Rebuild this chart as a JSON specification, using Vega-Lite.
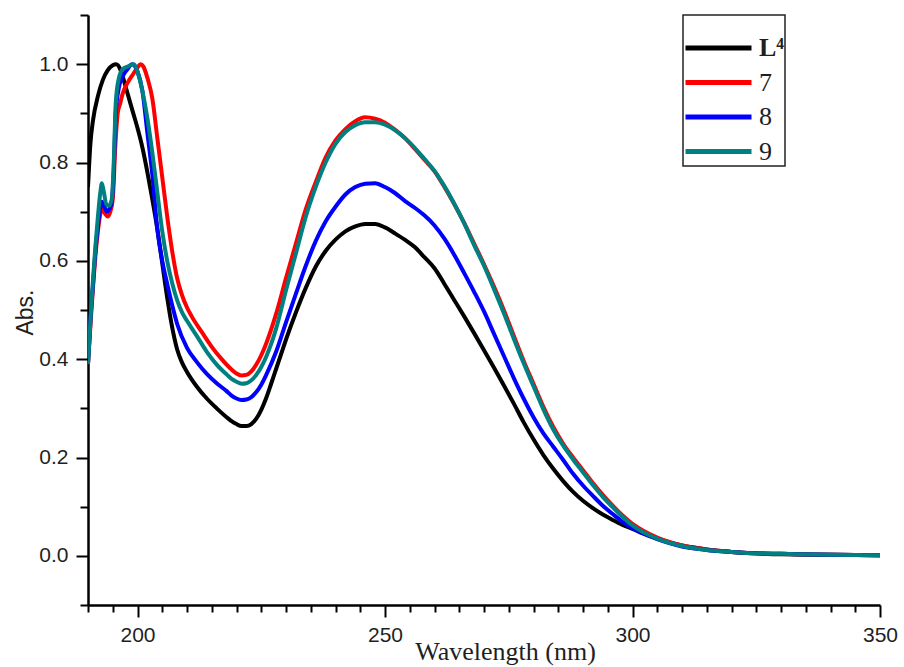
{
  "$schema": "https://vega.github.io/schema/vega-lite/v6.json",
  "autosize": {"type": "none"},
  "padding": {"left": 88, "top": 15, "right": 24, "bottom": 62},
  "width": 792,
  "height": 590,
  "background": "white",
  "config": {"view": {"stroke": null}},
  "data": {"values": [
{"s":"L⁴","wl":190,"a":0.75},{"s":"L⁴","wl":190.5,"a":0.84},{"s":"L⁴","wl":191,"a":0.885},{"s":"L⁴","wl":192,"a":0.935},{"s":"L⁴","wl":193,"a":0.968},{"s":"L⁴","wl":194,"a":0.988},{"s":"L⁴","wl":195,"a":0.998},{"s":"L⁴","wl":195.7,"a":1.0},{"s":"L⁴","wl":196.5,"a":0.99},{"s":"L⁴","wl":197,"a":0.975},{"s":"L⁴","wl":198,"a":0.94},{"s":"L⁴","wl":199,"a":0.905},{"s":"L⁴","wl":200,"a":0.87},{"s":"L⁴","wl":201,"a":0.83},{"s":"L⁴","wl":202,"a":0.78},{"s":"L⁴","wl":203,"a":0.725},{"s":"L⁴","wl":204,"a":0.665},{"s":"L⁴","wl":205,"a":0.595},{"s":"L⁴","wl":206,"a":0.525},{"s":"L⁴","wl":207,"a":0.465},{"s":"L⁴","wl":208,"a":0.42},{"s":"L⁴","wl":209,"a":0.393},{"s":"L⁴","wl":210,"a":0.374},{"s":"L⁴","wl":212,"a":0.344},{"s":"L⁴","wl":214,"a":0.32},{"s":"L⁴","wl":216,"a":0.3},{"s":"L⁴","wl":218,"a":0.282},{"s":"L⁴","wl":219,"a":0.274},{"s":"L⁴","wl":220,"a":0.268},{"s":"L⁴","wl":221,"a":0.264},{"s":"L⁴","wl":222,"a":0.264},{"s":"L⁴","wl":223,"a":0.268},{"s":"L⁴","wl":224,"a":0.279},{"s":"L⁴","wl":225,"a":0.297},{"s":"L⁴","wl":226,"a":0.321},{"s":"L⁴","wl":227,"a":0.35},{"s":"L⁴","wl":228,"a":0.38},{"s":"L⁴","wl":229,"a":0.41},{"s":"L⁴","wl":230,"a":0.44},{"s":"L⁴","wl":232,"a":0.495},{"s":"L⁴","wl":234,"a":0.545},{"s":"L⁴","wl":236,"a":0.588},{"s":"L⁴","wl":238,"a":0.62},{"s":"L⁴","wl":240,"a":0.643},{"s":"L⁴","wl":242,"a":0.66},{"s":"L⁴","wl":244,"a":0.67},{"s":"L⁴","wl":246,"a":0.675},{"s":"L⁴","wl":248,"a":0.675},{"s":"L⁴","wl":250,"a":0.668},{"s":"L⁴","wl":252,"a":0.656},{"s":"L⁴","wl":254,"a":0.643},{"s":"L⁴","wl":256,"a":0.628},{"s":"L⁴","wl":258,"a":0.607},{"s":"L⁴","wl":260,"a":0.585},{"s":"L⁴","wl":262,"a":0.553},{"s":"L⁴","wl":264,"a":0.52},{"s":"L⁴","wl":266,"a":0.487},{"s":"L⁴","wl":268,"a":0.453},{"s":"L⁴","wl":270,"a":0.418},{"s":"L⁴","wl":272,"a":0.383},{"s":"L⁴","wl":274,"a":0.347},{"s":"L⁴","wl":276,"a":0.31},{"s":"L⁴","wl":278,"a":0.272},{"s":"L⁴","wl":280,"a":0.237},{"s":"L⁴","wl":282,"a":0.205},{"s":"L⁴","wl":284,"a":0.177},{"s":"L⁴","wl":286,"a":0.152},{"s":"L⁴","wl":288,"a":0.13},{"s":"L⁴","wl":290,"a":0.112},{"s":"L⁴","wl":292,"a":0.097},{"s":"L⁴","wl":294,"a":0.084},{"s":"L⁴","wl":296,"a":0.073},{"s":"L⁴","wl":298,"a":0.063},{"s":"L⁴","wl":300,"a":0.055},{"s":"L⁴","wl":302,"a":0.046},{"s":"L⁴","wl":305,"a":0.035},{"s":"L⁴","wl":310,"a":0.021},{"s":"L⁴","wl":315,"a":0.013},{"s":"L⁴","wl":320,"a":0.008},{"s":"L⁴","wl":325,"a":0.005},{"s":"L⁴","wl":330,"a":0.003},{"s":"L⁴","wl":340,"a":0.002},{"s":"L⁴","wl":350,"a":0.001},
{"s":"7","wl":190,"a":0.39},{"s":"7","wl":190.5,"a":0.47},{"s":"7","wl":191,"a":0.545},{"s":"7","wl":191.5,"a":0.61},{"s":"7","wl":192,"a":0.66},{"s":"7","wl":192.5,"a":0.695},{"s":"7","wl":193,"a":0.705},{"s":"7","wl":193.5,"a":0.695},{"s":"7","wl":194,"a":0.69},{"s":"7","wl":194.5,"a":0.7},{"s":"7","wl":195,"a":0.725},{"s":"7","wl":195.5,"a":0.83},{"s":"7","wl":196,"a":0.9},{"s":"7","wl":196.5,"a":0.92},{"s":"7","wl":197,"a":0.94},{"s":"7","wl":198,"a":0.962},{"s":"7","wl":199,"a":0.978},{"s":"7","wl":200,"a":0.993},{"s":"7","wl":200.6,"a":1.0},{"s":"7","wl":201.2,"a":0.995},{"s":"7","wl":202,"a":0.972},{"s":"7","wl":203,"a":0.93},{"s":"7","wl":204,"a":0.85},{"s":"7","wl":205,"a":0.77},{"s":"7","wl":206,"a":0.69},{"s":"7","wl":207,"a":0.62},{"s":"7","wl":208,"a":0.565},{"s":"7","wl":209,"a":0.53},{"s":"7","wl":210,"a":0.505},{"s":"7","wl":211,"a":0.486},{"s":"7","wl":213,"a":0.455},{"s":"7","wl":215,"a":0.425},{"s":"7","wl":217,"a":0.4},{"s":"7","wl":219,"a":0.379},{"s":"7","wl":220,"a":0.371},{"s":"7","wl":221,"a":0.367},{"s":"7","wl":222,"a":0.368},{"s":"7","wl":223,"a":0.375},{"s":"7","wl":224,"a":0.389},{"s":"7","wl":225,"a":0.408},{"s":"7","wl":226,"a":0.432},{"s":"7","wl":228,"a":0.492},{"s":"7","wl":230,"a":0.565},{"s":"7","wl":232,"a":0.635},{"s":"7","wl":234,"a":0.705},{"s":"7","wl":236,"a":0.76},{"s":"7","wl":238,"a":0.81},{"s":"7","wl":240,"a":0.845},{"s":"7","wl":242,"a":0.868},{"s":"7","wl":244,"a":0.884},{"s":"7","wl":246,"a":0.892},{"s":"7","wl":248,"a":0.889},{"s":"7","wl":250,"a":0.881},{"s":"7","wl":252,"a":0.867},{"s":"7","wl":254,"a":0.85},{"s":"7","wl":256,"a":0.828},{"s":"7","wl":258,"a":0.805},{"s":"7","wl":260,"a":0.782},{"s":"7","wl":262,"a":0.75},{"s":"7","wl":264,"a":0.715},{"s":"7","wl":266,"a":0.677},{"s":"7","wl":268,"a":0.635},{"s":"7","wl":270,"a":0.593},{"s":"7","wl":272,"a":0.548},{"s":"7","wl":274,"a":0.5},{"s":"7","wl":276,"a":0.448},{"s":"7","wl":278,"a":0.397},{"s":"7","wl":280,"a":0.35},{"s":"7","wl":282,"a":0.303},{"s":"7","wl":284,"a":0.262},{"s":"7","wl":286,"a":0.228},{"s":"7","wl":288,"a":0.2},{"s":"7","wl":290,"a":0.174},{"s":"7","wl":292,"a":0.148},{"s":"7","wl":294,"a":0.124},{"s":"7","wl":296,"a":0.102},{"s":"7","wl":298,"a":0.082},{"s":"7","wl":300,"a":0.065},{"s":"7","wl":302,"a":0.052},{"s":"7","wl":305,"a":0.037},{"s":"7","wl":310,"a":0.021},{"s":"7","wl":315,"a":0.013},{"s":"7","wl":320,"a":0.008},{"s":"7","wl":325,"a":0.005},{"s":"7","wl":330,"a":0.004},{"s":"7","wl":340,"a":0.002},{"s":"7","wl":350,"a":0.001},
{"s":"8","wl":190,"a":0.39},{"s":"8","wl":190.5,"a":0.48},{"s":"8","wl":191,"a":0.55},{"s":"8","wl":191.5,"a":0.62},{"s":"8","wl":192,"a":0.67},{"s":"8","wl":192.5,"a":0.71},{"s":"8","wl":192.8,"a":0.72},{"s":"8","wl":193.3,"a":0.71},{"s":"8","wl":193.8,"a":0.7},{"s":"8","wl":194.3,"a":0.705},{"s":"8","wl":194.8,"a":0.72},{"s":"8","wl":195.2,"a":0.78},{"s":"8","wl":195.6,"a":0.9},{"s":"8","wl":196.2,"a":0.95},{"s":"8","wl":197,"a":0.975},{"s":"8","wl":198,"a":0.99},{"s":"8","wl":198.9,"a":1.0},{"s":"8","wl":200,"a":0.985},{"s":"8","wl":201,"a":0.945},{"s":"8","wl":202,"a":0.86},{"s":"8","wl":203,"a":0.775},{"s":"8","wl":204,"a":0.665},{"s":"8","wl":205,"a":0.6},{"s":"8","wl":206,"a":0.553},{"s":"8","wl":207,"a":0.51},{"s":"8","wl":208,"a":0.472},{"s":"8","wl":210,"a":0.423},{"s":"8","wl":212,"a":0.394},{"s":"8","wl":214,"a":0.37},{"s":"8","wl":216,"a":0.351},{"s":"8","wl":218,"a":0.335},{"s":"8","wl":219,"a":0.326},{"s":"8","wl":220,"a":0.32},{"s":"8","wl":221,"a":0.317},{"s":"8","wl":222,"a":0.318},{"s":"8","wl":223,"a":0.323},{"s":"8","wl":224,"a":0.333},{"s":"8","wl":225,"a":0.348},{"s":"8","wl":226,"a":0.368},{"s":"8","wl":228,"a":0.415},{"s":"8","wl":230,"a":0.475},{"s":"8","wl":232,"a":0.533},{"s":"8","wl":234,"a":0.59},{"s":"8","wl":236,"a":0.64},{"s":"8","wl":238,"a":0.68},{"s":"8","wl":240,"a":0.71},{"s":"8","wl":242,"a":0.735},{"s":"8","wl":244,"a":0.75},{"s":"8","wl":246,"a":0.757},{"s":"8","wl":248,"a":0.758},{"s":"8","wl":250,"a":0.75},{"s":"8","wl":252,"a":0.738},{"s":"8","wl":254,"a":0.722},{"s":"8","wl":256,"a":0.708},{"s":"8","wl":258,"a":0.692},{"s":"8","wl":260,"a":0.672},{"s":"8","wl":262,"a":0.645},{"s":"8","wl":264,"a":0.612},{"s":"8","wl":266,"a":0.575},{"s":"8","wl":268,"a":0.537},{"s":"8","wl":270,"a":0.497},{"s":"8","wl":272,"a":0.452},{"s":"8","wl":274,"a":0.407},{"s":"8","wl":276,"a":0.362},{"s":"8","wl":278,"a":0.32},{"s":"8","wl":280,"a":0.282},{"s":"8","wl":282,"a":0.249},{"s":"8","wl":284,"a":0.222},{"s":"8","wl":286,"a":0.195},{"s":"8","wl":288,"a":0.167},{"s":"8","wl":290,"a":0.143},{"s":"8","wl":292,"a":0.122},{"s":"8","wl":294,"a":0.102},{"s":"8","wl":296,"a":0.085},{"s":"8","wl":298,"a":0.069},{"s":"8","wl":300,"a":0.056},{"s":"8","wl":302,"a":0.046},{"s":"8","wl":305,"a":0.034},{"s":"8","wl":310,"a":0.019},{"s":"8","wl":315,"a":0.012},{"s":"8","wl":320,"a":0.008},{"s":"8","wl":325,"a":0.005},{"s":"8","wl":330,"a":0.004},{"s":"8","wl":340,"a":0.002},{"s":"8","wl":350,"a":0.001},
{"s":"9","wl":190,"a":0.39},{"s":"9","wl":190.5,"a":0.48},{"s":"9","wl":191,"a":0.56},{"s":"9","wl":191.5,"a":0.63},{"s":"9","wl":192,"a":0.69},{"s":"9","wl":192.5,"a":0.74},{"s":"9","wl":192.8,"a":0.758},{"s":"9","wl":193.2,"a":0.74},{"s":"9","wl":193.7,"a":0.715},{"s":"9","wl":194.2,"a":0.712},{"s":"9","wl":194.8,"a":0.725},{"s":"9","wl":195.2,"a":0.8},{"s":"9","wl":195.6,"a":0.92},{"s":"9","wl":196.2,"a":0.97},{"s":"9","wl":197,"a":0.99},{"s":"9","wl":198,"a":0.995},{"s":"9","wl":199.3,"a":1.0},{"s":"9","wl":200,"a":0.985},{"s":"9","wl":201,"a":0.945},{"s":"9","wl":202,"a":0.89},{"s":"9","wl":203,"a":0.82},{"s":"9","wl":204,"a":0.74},{"s":"9","wl":205,"a":0.66},{"s":"9","wl":206,"a":0.6},{"s":"9","wl":207,"a":0.555},{"s":"9","wl":208,"a":0.52},{"s":"9","wl":209,"a":0.495},{"s":"9","wl":210,"a":0.478},{"s":"9","wl":212,"a":0.447},{"s":"9","wl":214,"a":0.415},{"s":"9","wl":216,"a":0.389},{"s":"9","wl":218,"a":0.369},{"s":"9","wl":219,"a":0.36},{"s":"9","wl":220,"a":0.354},{"s":"9","wl":221,"a":0.35},{"s":"9","wl":222,"a":0.351},{"s":"9","wl":223,"a":0.357},{"s":"9","wl":224,"a":0.368},{"s":"9","wl":225,"a":0.384},{"s":"9","wl":226,"a":0.405},{"s":"9","wl":228,"a":0.462},{"s":"9","wl":230,"a":0.54},{"s":"9","wl":232,"a":0.615},{"s":"9","wl":234,"a":0.69},{"s":"9","wl":236,"a":0.75},{"s":"9","wl":238,"a":0.8},{"s":"9","wl":240,"a":0.838},{"s":"9","wl":242,"a":0.862},{"s":"9","wl":244,"a":0.876},{"s":"9","wl":246,"a":0.882},{"s":"9","wl":248,"a":0.882},{"s":"9","wl":250,"a":0.877},{"s":"9","wl":252,"a":0.866},{"s":"9","wl":254,"a":0.85},{"s":"9","wl":256,"a":0.83},{"s":"9","wl":258,"a":0.807},{"s":"9","wl":260,"a":0.783},{"s":"9","wl":262,"a":0.752},{"s":"9","wl":264,"a":0.716},{"s":"9","wl":266,"a":0.676},{"s":"9","wl":268,"a":0.632},{"s":"9","wl":270,"a":0.59},{"s":"9","wl":272,"a":0.543},{"s":"9","wl":274,"a":0.494},{"s":"9","wl":276,"a":0.442},{"s":"9","wl":278,"a":0.392},{"s":"9","wl":280,"a":0.345},{"s":"9","wl":282,"a":0.298},{"s":"9","wl":284,"a":0.257},{"s":"9","wl":286,"a":0.224},{"s":"9","wl":288,"a":0.196},{"s":"9","wl":290,"a":0.17},{"s":"9","wl":292,"a":0.144},{"s":"9","wl":294,"a":0.12},{"s":"9","wl":296,"a":0.099},{"s":"9","wl":298,"a":0.079},{"s":"9","wl":300,"a":0.062},{"s":"9","wl":302,"a":0.049},{"s":"9","wl":305,"a":0.035},{"s":"9","wl":310,"a":0.02},{"s":"9","wl":315,"a":0.012},{"s":"9","wl":320,"a":0.008},{"s":"9","wl":325,"a":0.005},{"s":"9","wl":330,"a":0.004},{"s":"9","wl":340,"a":0.002},{"s":"9","wl":350,"a":0.001}
  ]},
  "mark": {"type": "line", "interpolate": "monotone", "strokeWidth": 4, "clip": true},
  "encoding": {
    "x": {
      "field": "wl", "type": "quantitative",
      "scale": {"domain": [190, 350], "nice": false, "zero": false},
      "axis": {
        "title": "Wavelength (nm)",
        "values": [190,195,200,205,210,215,220,225,230,235,240,245,250,255,260,265,270,275,280,285,290,295,300,305,310,315,320,325,330,335,340,345,350],
        "labelExpr": "datum.value % 50 === 0 ? datum.label : ''",
        "tickSize": {"condition": {"test": "datum.value % 50 === 0", "value": 12}, "value": 7},
        "grid": false,
        "domainColor": "black", "domainWidth": 2.5,
        "tickColor": "black", "tickWidth": 2,
        "labelFont": "Liberation Sans", "labelFontSize": 21, "labelColor": "#1f1f1f",
        "labelPadding": 7, "labelFlush": false, "labelOverlap": false,
        "titleFont": "Liberation Serif", "titleFontSize": 26, "titleFontWeight": "normal", "titleColor": "#1f1f1f",
        "titleX": 417, "titleY": 54, "titleBaseline": "alphabetic", "titleAlign": "center"
      }
    },
    "y": {
      "field": "a", "type": "quantitative",
      "scale": {"domain": [-0.1, 1.1], "nice": false, "zero": false},
      "axis": {
        "title": "Abs.",
        "values": [-0.1,0,0.1,0.2,0.3,0.4,0.5,0.6,0.7,0.8,0.9,1.0,1.1],
        "format": ".1f",
        "labelExpr": "(round(datum.value*10) % 2 === 0 && datum.value > -0.05 && datum.value < 1.05) ? datum.label : ''",
        "tickSize": {"condition": {"test": "round(datum.value*10) % 2 === 0", "value": 12}, "value": 8},
        "grid": false,
        "domainColor": "black", "domainWidth": 2.5,
        "tickColor": "black", "tickWidth": 2,
        "labelFont": "Liberation Sans", "labelFontSize": 21, "labelColor": "#1f1f1f",
        "labelPadding": 8, "labelFlush": false, "labelOverlap": false,
        "titleFont": "Liberation Sans", "titleFontSize": 23, "titleFontWeight": "normal", "titleColor": "#1f1f1f",
        "titleAngle": -90, "titleX": -56, "titleY": 297, "titleBaseline": "alphabetic", "titleAlign": "center"
      }
    },
    "color": {
      "field": "s", "type": "nominal",
      "scale": {"domain": ["L⁴", "7", "8", "9"], "range": ["#000000", "#ff0000", "#0000ff", "#008080"]},
      "legend": {
        "orient": "none", "legendX": 595, "legendY": 0,
        "title": "\u00a0", "titleFontSize": 12, "titlePadding": 7,
        "strokeColor": "#222222", "fillColor": "white",
        "padding": 0,
        "symbolType": "stroke", "symbolSize": 4356, "symbolStrokeWidth": 5,
        "clipHeight": 28, "rowPadding": 6.5,
        "labelOffset": 5,
        "labelFont": "Liberation Serif", "labelFontSize": 26, "labelColor": "#1f1f1f",
        "encode": {
          "legend": {"update": {"strokeWidth": {"value": 1.5}}},
          "labels": {"update": {"fontWeight": {"signal": "datum.label === 'L⁴' ? 'bold' : 'normal'"}}}
        }
      }
    }
  }
}
